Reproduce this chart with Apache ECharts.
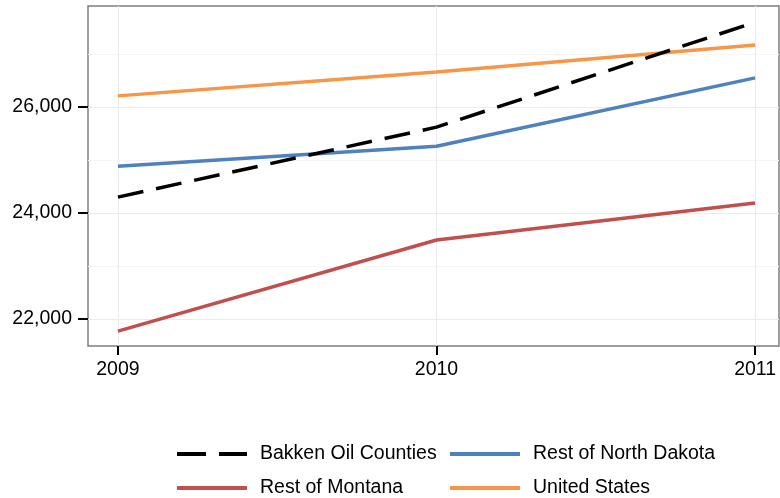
<!DOCTYPE html>
<html><head><meta charset="utf-8">
<script src="https://cdn.jsdelivr.net/npm/echarts@6/dist/echarts.min.js"></script>
<style>html,body{margin:0;padding:0;background:#fff}#c{width:780px;height:498px}</style>
</head><body><div id="c"></div>
<script>
const years = [2009, 2010, 2011];
const bakken = [24300, 25620, 27600];
const restND = [24880, 25260, 26550];
const restMT = [21770, 23490, 24190];
const us = [26210, 26660, 27170];
const yMajor = [22000, 24000, 26000];
const yMinor = [23000, 25000, 27000];
const names = ['Bakken Oil Counties', 'Rest of North Dakota', 'Rest of Montana', 'United States'];

const FONT = 'Liberation Sans';
const pairs = arr => years.map((y, i) => [y, arr[i]]);
const xMin = 2008.906, xMax = 2011.075, yMin = 21490, yMax = 27906;

const solidIcon = 'path://M0,0L70,0L70,4L0,4Z';
const dashIcon = 'path://M0,0L29,0L29,4L0,4Z M42,0L70,0L70,4L42,4Z';

const legendBase = {
  orient: 'vertical', itemWidth: 70, itemHeight: 4, itemGap: 14, padding: 0, height: 60,
  textStyle: { fontSize: 19.5, fontFamily: FONT, color: '#000', lineHeight: 20, padding: [0, 0, 0, 8] }
};

const chart = echarts.init(document.getElementById('c'));
chart.setOption({
  animation: false,
  backgroundColor: '#fff',
  grid: { left: 88, right: 1, top: 6, bottom: 152, show: true, borderColor: '#7f7f7f', borderWidth: 1.5, backgroundColor: 'transparent' },
  legend: [
    Object.assign({ left: 177, top: 444, data: [{ name: names[0], icon: dashIcon }, { name: names[2], icon: solidIcon }] }, legendBase),
    Object.assign({ left: 450, top: 444, data: [{ name: names[1], icon: solidIcon }, { name: names[3], icon: solidIcon }] }, legendBase)
  ],
  xAxis: {
    type: 'value', min: xMin, max: xMax,
    axisLine: { show: false },
    axisTick: { show: true, customValues: years, length: 9, lineStyle: { color: '#000', width: 2 } },
    axisLabel: { customValues: years, margin: 14, fontSize: 19.5, fontFamily: FONT, color: '#000', formatter: v => String(v) },
    splitLine: { show: true, lineStyle: { color: '#ebebeb', width: 1 } }
  },
  yAxis: [
    {
      type: 'value', min: yMin, max: yMax,
      axisLine: { show: false },
      axisTick: { show: true, customValues: yMajor, length: 10, lineStyle: { color: '#000', width: 2 } },
      axisLabel: { customValues: yMajor, margin: 16, fontSize: 19.5, fontFamily: FONT, color: '#000',
        formatter: v => v.toLocaleString('en-US') },
      splitLine: { show: true, lineStyle: { color: '#ebebeb', width: 1 } }
    },
    {
      type: 'value', min: yMin, max: yMax, position: 'left',
      axisLine: { show: false },
      axisTick: { show: false, customValues: yMinor },
      axisLabel: { show: false, customValues: yMinor },
      splitLine: { show: true, lineStyle: { color: '#f5f5f5', width: 1 } }
    }
  ],
  series: [
    { name: names[1], type: 'line', data: pairs(restND), symbol: 'none', color: '#4F81BD', lineStyle: { width: 3.5, color: '#4F81BD' } },
    { name: names[2], type: 'line', data: pairs(restMT), symbol: 'none', color: '#C0504D', lineStyle: { width: 3.5, color: '#C0504D' } },
    { name: names[3], type: 'line', data: pairs(us), symbol: 'none', color: '#F79646', lineStyle: { width: 3.5, color: '#F79646' } },
    { name: names[0], type: 'line', data: pairs(bakken), symbol: 'none', color: '#000', lineStyle: { width: 3.5, color: '#000', type: [26, 13] } }
  ]
});
</script></body></html>
